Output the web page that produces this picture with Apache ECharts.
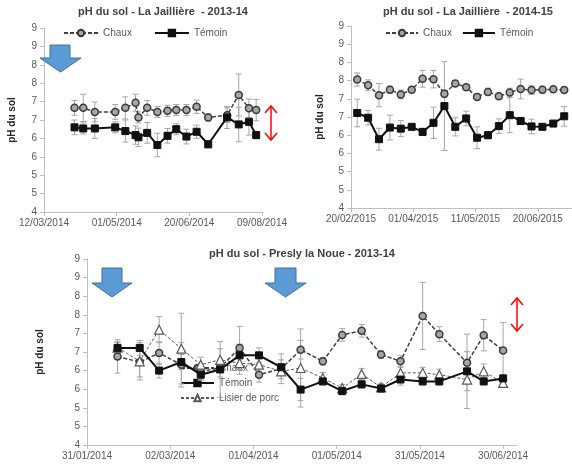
<!DOCTYPE html>
<html>
<head>
<meta charset="utf-8">
<script src="https://cdn.jsdelivr.net/npm/echarts@6/dist/echarts.min.js"></script>
<style>
  html, body { margin: 0; padding: 0; background: #fff; }
  #main { width: 572px; height: 466px; }
</style>
</head>
<body>
<div id="main"></div>
<script>
// pH du sol - La Jaillière - 2013-14
var jail1Origin = '2014-03-12';
var jail1Dates = ['2014-04-02', '2014-04-08', '2014-04-16', '2014-04-30', '2014-05-07', '2014-05-14', '2014-05-16', '2014-05-22', '2014-05-29',
    '2014-06-05', '2014-06-11', '2014-06-18', '2014-06-25', '2014-07-03', '2014-07-16', '2014-07-24', '2014-07-31', '2014-08-05'];
var jail1Chaux = [6.83, 6.83, 6.72, 6.72, 6.83, 6.97, 6.57, 6.83, 6.72, 6.75, 6.77, 6.77, 6.86, 6.57, 6.63, 7.18, 6.82, 6.77];
var jail1ChauxErr = [0.2, 0.37, 0.27, 0.2, 0.3, 0.23, 0.15, 0.2, 0.15, 0.15, 0.15, 0.15, 0.18, 0.1, 0.2, 0.57, 0.25, 0.29];
var jail1Temoin = [6.30, 6.27, 6.27, 6.30, 6.20, 6.09, 6.03, 6.15, 5.82, 6.07, 6.25, 6.05, 6.18, 5.84, 6.57, 6.38, 6.45, 6.09];
var jail1TemoinErr = [0.2, 0.15, 0.27, 0.15, 0.3, 0.25, 0.25, 0.28, 0.32, 0.2, 0.15, 0.2, 0.18, 0.1, 0.3, 0.47, 0.36, 0.1];
var jail1Ticks = [0, 50, 100, 150];

// pH du sol - La Jaillière - 2014-15
var jail2Origin = '2015-02-20';
var jail2Dates = ['2015-02-24', '2015-03-03', '2015-03-10', '2015-03-17', '2015-03-24', '2015-03-31', '2015-04-07', '2015-04-14', '2015-04-21', '2015-04-28',
    '2015-05-05', '2015-05-12', '2015-05-19', '2015-05-26', '2015-06-02', '2015-06-09', '2015-06-16', '2015-06-23', '2015-06-30', '2015-07-07'];
var jail2Chaux = [7.53, 7.37, 7.10, 7.25, 7.12, 7.25, 7.55, 7.54, 7.14, 7.42, 7.32, 7.05, 7.19, 7.07, 7.17, 7.27, 7.24, 7.25, 7.26, 7.24];
var jail2ChauxErr = [0.18, 0.15, 0.32, 0.1, 0.12, 0.08, 0.23, 0.24, 0.1, 0.08, 0.08, 0.08, 0.1, 0.08, 0.12, 0.27, 0.12, 0.1, 0.08, 0.08];
var jail2Temoin = [6.61, 6.48, 5.89, 6.21, 6.18, 6.23, 6.09, 6.34, 6.80, 6.23, 6.46, 5.93, 6.00, 6.25, 6.55, 6.39, 6.24, 6.23, 6.32, 6.52];
var jail2TemoinErr = [0.38, 0.2, 0.3, 0.34, 0.22, 0.05, 0.1, 0.43, 1.22, 0.25, 0.2, 0.3, 0.1, 0.2, 0.48, 0.1, 0.2, 0.05, 0.05, 0.27];
var jail2Ticks = [0, 40, 80, 120];

// pH du sol - Presly la Noue - 2013-14
var preslyOrigin = '2014-01-31';
var preslyDates = ['2014-02-11', '2014-02-19', '2014-02-26', '2014-03-06', '2014-03-13', '2014-03-20', '2014-03-27', '2014-04-03', '2014-04-11', '2014-04-18',
    '2014-04-26', '2014-05-03', '2014-05-10', '2014-05-17', '2014-05-24', '2014-06-01', '2014-06-07', '2014-06-17', '2014-06-23', '2014-06-30'];
var preslyChaux = [6.38, 6.23, 6.47, 6.16, 5.97, 6.08, 6.61, 5.89, 6.05, 6.56, 6.25, 6.96, 7.07, 6.43, 6.25, 7.47, 6.98, 6.21, 6.95, 6.54];
var preslyChauxErr = [0.45, 0.4, 0.3, 0.6, 0.2, 0.25, 0.58, 0.2, 0.4, 0.25, 0.1, 0.17, 0.17, 0.1, 0.15, 0.9, 0.2, 0.3, 0.42, 0.75];
var preslyTemoin = [6.61, 6.61, 6.00, 6.23, 5.89, 6.03, 6.41, 6.41, 6.09, 5.49, 5.71, 5.45, 5.63, 5.52, 5.76, 5.71, 5.71, 5.98, 5.71, 5.79];
var preslyTemoinErr = [0.15, 0.2, 0.2, 0.2, 0.15, 0.75, 0.3, 0.2, 0.2, 0.3, 0.1, 0.1, 0.1, 0.1, 0.15, 0.1, 0.1, 1.0, 0.1, 0.1];
var preslyLisier = [6.62, 6.25, 7.10, 6.59, 6.16, 6.29, 6.20, 6.16, 5.98, 6.07, 5.80, 5.53, 5.91, 5.55, 5.94, 5.94, 5.89, 5.76, 5.98, 5.67];
var preslyLisierErr = [0.15, 0.5, 0.35, 0.95, 0.2, 0.3, 0.3, 0.3, 0.2, 1.05, 0.15, 0.1, 0.15, 0.1, 0.15, 0.15, 0.15, 0.3, 0.2, 0.1];
var preslyTicks = [0, 30, 60, 90, 120, 150];

var FONT = 'Liberation Sans';
var DAY = 86400000;

function pad(n) { return n < 10 ? '0' + n : '' + n; }

function dayOffset(iso, origin) {
    return (Date.parse(iso) - Date.parse(origin)) / DAY;
}

function dateLabel(origin) {
    return function (v) {
        var d = new Date(Date.parse(origin) + v * DAY);
        return pad(d.getUTCDate()) + '/' + pad(d.getUTCMonth() + 1) + '/' + d.getUTCFullYear();
    };
}

function points(dates, origin, values) {
    return dates.map(function (d, i) { return [dayOffset(d, origin), values[i]]; });
}

function bars(dates, origin, values, errs) {
    return dates.map(function (d, i) { return [dayOffset(d, origin), values[i] - errs[i], values[i] + errs[i]]; });
}

function errorBarItem(params, api) {
    var x = api.value(0);
    var lo = api.coord([x, api.value(1)]);
    var hi = api.coord([x, api.value(2)]);
    var cap = 3;
    var style = { stroke: '#a6a6a6', lineWidth: 1 };
    return {
        type: 'group',
        children: [
            { type: 'line', shape: { x1: lo[0], y1: lo[1], x2: hi[0], y2: hi[1] }, style: style },
            { type: 'line', shape: { x1: lo[0] - cap, y1: lo[1], x2: lo[0] + cap, y2: lo[1] }, style: style },
            { type: 'line', shape: { x1: hi[0] - cap, y1: hi[1], x2: hi[0] + cap, y2: hi[1] }, style: style }
        ]
    };
}

function xAxis(idx, max, interval, ticks, origin) {
    return {
        type: 'value', gridIndex: idx, min: 0, max: max, interval: interval,
        axisLine: { lineStyle: { color: '#bfbfbf' } },
        axisTick: { show: true, length: 4, lineStyle: { color: '#bfbfbf' }, customValues: ticks },
        axisLabel: { color: '#595959', fontSize: 10, fontFamily: FONT, margin: 6, customValues: ticks, formatter: dateLabel(origin) },
        splitLine: { show: false }
    };
}

function yAxis(idx, nameGap) {
    return {
        type: 'value', gridIndex: idx, min: 4, max: 9, interval: 0.5,
        name: 'pH du sol', nameLocation: 'middle', nameGap: nameGap,
        nameTextStyle: { fontFamily: FONT, fontSize: 10, fontWeight: 'bold', color: '#262626' },
        axisLine: { show: true, lineStyle: { color: '#bfbfbf' } },
        axisTick: { show: true, length: 4, lineStyle: { color: '#bfbfbf' } },
        axisLabel: { color: '#595959', fontSize: 10, fontFamily: FONT, margin: 7, formatter: function (v) { return Math.round(v); } },
        splitLine: { show: false }
    };
}

function chauxSeries(idx, data) {
    return {
        name: 'Chaux', type: 'line', xAxisIndex: idx, yAxisIndex: idx, z: 3, data: data,
        symbol: 'circle', symbolSize: 7,
        lineStyle: { color: '#404040', width: 1.5, type: [4, 2] },
        itemStyle: { color: '#a6a6a6', borderColor: '#3a3a3a', borderWidth: 1.5 }
    };
}

function temoinSeries(idx, data) {
    return {
        name: 'Témoin', type: 'line', xAxisIndex: idx, yAxisIndex: idx, z: 4, data: data,
        symbol: 'rect', symbolSize: 7,
        lineStyle: { color: '#111', width: 2 },
        itemStyle: { color: '#111', borderColor: '#111', borderWidth: 1 }
    };
}

function lisierSeries(idx, data) {
    return {
        name: 'Lisier de porc', type: 'line', xAxisIndex: idx, yAxisIndex: idx, z: 3, data: data,
        symbol: 'triangle', symbolSize: 9,
        lineStyle: { color: '#595959', width: 1, type: [3, 2] },
        itemStyle: { color: '#fff', borderColor: '#595959', borderWidth: 1.2 }
    };
}

function errSeries(idx, data) {
    return {
        type: 'custom', xAxisIndex: idx, yAxisIndex: idx, z: 2, silent: true,
        renderItem: errorBarItem, encode: { x: 0, y: [1, 2] }, data: data
    };
}

function blueArrow(x0, x1, top, headY, headL, headR, tipY) {
    var cx = (headL + headR) / 2;
    return {
        type: 'polygon', z: 100,
        shape: { points: [[x0, top], [x1, top], [x1, headY], [headR, headY], [cx, tipY], [headL, headY], [x0, headY]] },
        style: { fill: '#5b9bd5', stroke: '#41719c', lineWidth: 1 }
    };
}

function redArrow(x, y0, y1) {
    var s = { stroke: '#ff0000', lineWidth: 1.5, fill: null };
    return {
        type: 'group', z: 100,
        children: [
            { type: 'line', shape: { x1: x, y1: y0, x2: x, y2: y1 }, style: s },
            { type: 'polyline', shape: { points: [[x - 6, y0 + 7], [x, y0], [x + 6, y0 + 7]] }, style: s },
            { type: 'polyline', shape: { points: [[x - 6, y1 - 7], [x, y1], [x + 6, y1 - 7]] }, style: s }
        ]
    };
}

var titleStyle = { fontFamily: FONT, fontSize: 11, fontWeight: 'bold', color: '#404040' };
var legendText = { fontFamily: FONT, fontSize: 10, color: '#595959' };

var chart = echarts.init(document.getElementById('main'), null, { renderer: 'canvas' });

var option = {
    backgroundColor: '#fff',
    animation: false,
    title: [
        { text: 'pH du sol - La Jaillière  - 2013-14', left: 163, top: 6, textAlign: 'center', padding: 0, textStyle: titleStyle },
        { text: 'pH du sol - La Jaillière  - 2014-15', left: 468, top: 6, textAlign: 'center', padding: 0, textStyle: titleStyle },
        { text: 'pH du sol - Presly la Noue - 2013-14', left: 302, top: 248, textAlign: 'center', padding: 0, textStyle: titleStyle }
    ],
    legend: [
        { data: ['Chaux', 'Témoin'], left: 63, top: 28, padding: 0, itemWidth: 34, itemHeight: 8, itemGap: 22, textStyle: legendText },
        { data: ['Chaux', 'Témoin'], left: 385, top: 28, padding: 0, itemWidth: 32, itemHeight: 8, itemGap: 10, textStyle: legendText },
        { data: ['Chaux', 'Témoin', 'Lisier de porc'], orient: 'vertical', left: 180, top: 363, padding: 0, z: 1,
            itemWidth: 33, itemHeight: 8, itemGap: 5, textStyle: legendText }
    ],
    grid: [
        { left: 44, top: 28, width: 218, height: 184, outerBoundsMode: 'none' },
        { left: 351, top: 26, width: 249, height: 182, outerBoundsMode: 'none' },
        { left: 87, top: 259, width: 430, height: 186, outerBoundsMode: 'none' }
    ],
    xAxis: [
        xAxis(0, 150, 50, jail1Ticks, jail1Origin),
        xAxis(1, 160, 40, jail2Ticks, jail2Origin),
        xAxis(2, 155, 30, preslyTicks, preslyOrigin)
    ],
    yAxis: [yAxis(0, 27), yAxis(1, 26), yAxis(2, 42)],
    series: [
        errSeries(0, bars(jail1Dates, jail1Origin, jail1Chaux, jail1ChauxErr)),
        errSeries(0, bars(jail1Dates, jail1Origin, jail1Temoin, jail1TemoinErr)),
        chauxSeries(0, points(jail1Dates, jail1Origin, jail1Chaux)),
        temoinSeries(0, points(jail1Dates, jail1Origin, jail1Temoin)),

        errSeries(1, bars(jail2Dates, jail2Origin, jail2Chaux, jail2ChauxErr)),
        errSeries(1, bars(jail2Dates, jail2Origin, jail2Temoin, jail2TemoinErr)),
        chauxSeries(1, points(jail2Dates, jail2Origin, jail2Chaux)),
        temoinSeries(1, points(jail2Dates, jail2Origin, jail2Temoin)),

        errSeries(2, bars(preslyDates, preslyOrigin, preslyChaux, preslyChauxErr)),
        errSeries(2, bars(preslyDates, preslyOrigin, preslyTemoin, preslyTemoinErr)),
        errSeries(2, bars(preslyDates, preslyOrigin, preslyLisier, preslyLisierErr)),
        chauxSeries(2, points(preslyDates, preslyOrigin, preslyChaux)),
        temoinSeries(2, points(preslyDates, preslyOrigin, preslyTemoin)),
        lisierSeries(2, points(preslyDates, preslyOrigin, preslyLisier))
    ],
    graphic: [
        blueArrow(50, 70, 45, 58, 40, 81, 72),
        blueArrow(102, 122, 268, 283, 92, 132, 297),
        blueArrow(275, 296, 268, 283, 265, 306, 297),
        redArrow(271, 106, 140),
        redArrow(517, 298, 331)
    ]
};

chart.setOption(option);
</script>
</body>
</html>
